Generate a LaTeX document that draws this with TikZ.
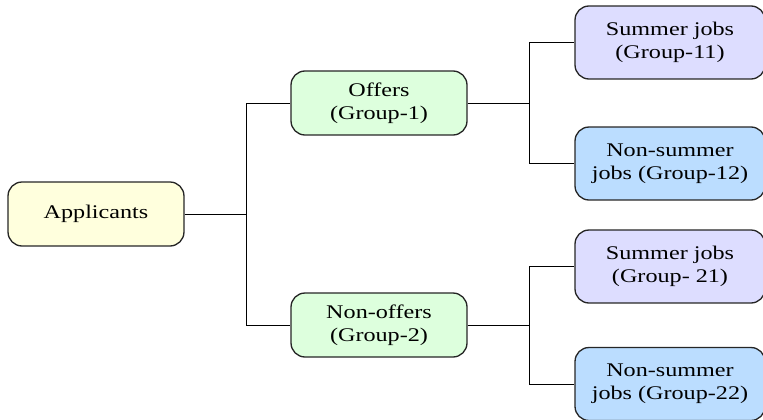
\documentclass[tikz,border=0pt]{standalone}
\usepackage{fontspec}
\setmainfont{Liberation Serif}[FakeStretch=1.25]
\usepackage{tikz}
\usetikzlibrary{positioning,calc}

\definecolor{appfill}{HTML}{FFFFDD}
\definecolor{grpfill}{HTML}{DDFFDD}
\definecolor{sumfill}{HTML}{DDDDFF}
\definecolor{nonfill}{HTML}{BBDDFF}

\tikzset{
  box/.style={draw=black!85, line width=0.75pt, rounded corners=0.28cm, align=center,
    font=\fontsize{11}{13}\selectfont, minimum width=3.52cm, minimum height=1.28cm, inner sep=1pt},
  leaf/.style={box, minimum width=3.8cm, minimum height=1.46cm},
  link/.style={line width=0.5pt}
}

\begin{document}
\begin{tikzpicture}[x=0.02cm,y=-0.02cm]
\clip (0,0) rectangle (763,419);
\useasboundingbox (0,0) rectangle (763,419);

% Root and first split
\node[box, fill=appfill] (app) at (96,214) {Applicants};
\node[box, fill=grpfill] (off) at (379,103) {Offers\\(Group-1)};
\node[box, fill=grpfill] (non) at (379,325) {Non-offers\\(Group-2)};

% Second split
\node[leaf, fill=sumfill] (g11) at (670,42.5) {Summer jobs\\(Group-11)};
\node[leaf, fill=nonfill] (g12) at (670,163.5) {Non-summer\\jobs (Group-12)};
\node[leaf, fill=sumfill] (g21) at (670,266.5) {Summer jobs\\(Group- 21)};
\node[leaf, fill=nonfill] (g22) at (670,384) {Non-summer\\jobs (Group-22)};

% Forks
\coordinate (f0) at (246,214);
\coordinate (f1) at (529,103);
\coordinate (f2) at (529,325);

\draw[link] (app.east) -- (f0);
\draw[link] (f0) |- (off.west);
\draw[link] (f0) |- (non.west);

\draw[link] (off.east) -- (f1);
\draw[link] (f1) |- (g11.west);
\draw[link] (f1) |- (g12.west);

\draw[link] (non.east) -- (f2);
\draw[link] (f2) |- (g21.west);
\draw[link] (f2) |- (g22.west);
\end{tikzpicture}
\end{document}
